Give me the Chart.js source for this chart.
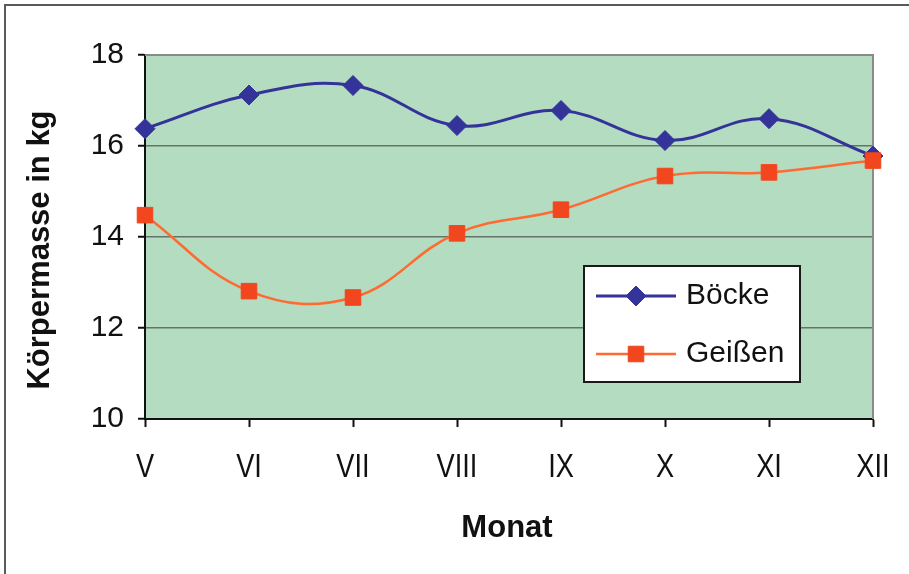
<!DOCTYPE html>
<html>
<head>
<meta charset="utf-8">
<script src="https://cdn.jsdelivr.net/npm/chart.js@4/dist/chart.umd.min.js"></script>
<style>
  html, body { margin: 0; padding: 0; background: #ffffff; }
  #wrap { width: 909px; height: 574px; position: relative; }
</style>
</head>
<body>
<div id="wrap"><canvas id="c" width="909" height="574"></canvas></div>
<script>
// Monthly mean body mass (kg) of bucks and does
const months = ['V', 'VI', 'VII', 'VIII', 'IX', 'X', 'XI', 'XII'];
const boecke = [16.38, 17.12, 17.33, 16.45, 16.78, 16.12, 16.60, 15.78];
const geissen = [14.48, 12.81, 12.67, 14.08, 14.60, 15.34, 15.42, 15.68];
const yTicks = [10, 12, 14, 16, 18];
const seriesNames = ['Böcke', 'Geißen'];
const xTitle = 'Monat';
const yTitle = 'Körpermasse in kg';

const BLUE = '#333399';
const ORANGE_LINE = '#FF6A30';
const ORANGE_MARK = '#F2461E';
const PLOT_BG = '#B4DCC0';
const FONT = "'Liberation Sans', Arial, sans-serif";

// Green plot background plus grey top/right frame of the plot area
const plotFrame = {
  id: 'plotFrame',
  beforeDraw(chart) {
    const { ctx, chartArea: a } = chart;
    ctx.save();
    ctx.fillStyle = PLOT_BG;
    ctx.fillRect(a.left, a.top, a.right - a.left, a.bottom - a.top);
    ctx.restore();
  },
  beforeDatasetsDraw(chart) {
    const { ctx, chartArea: a } = chart;
    ctx.save();
    ctx.strokeStyle = '#8a8a8a';
    ctx.lineWidth = 2;
    ctx.beginPath();
    ctx.moveTo(a.left, a.top);
    ctx.lineTo(a.right, a.top);
    ctx.lineTo(a.right, a.bottom);
    ctx.stroke();
    ctx.restore();
  },
  afterDraw(chart) {
    const { ctx } = chart;
    ctx.save();
    // outer frame of the figure (top and left edge)
    ctx.strokeStyle = '#5a5a5a';
    ctx.lineWidth = 2;
    ctx.beginPath();
    ctx.moveTo(5, chart.height);
    ctx.lineTo(5, 5);
    ctx.lineTo(chart.width, 5);
    ctx.stroke();

    // condensed month labels under the x-axis tick marks
    const xs = chart.scales.x;
    ctx.fillStyle = '#111111';
    ctx.font = '34px ' + FONT;
    ctx.textAlign = 'center';
    ctx.textBaseline = 'alphabetic';
    xs.ticks.forEach((t, i) => {
      const px = xs.getPixelForTick(i);
      ctx.save();
      ctx.translate(px, 477);
      ctx.scale(0.8, 1);
      ctx.fillText(xs.getLabelForValue(t.value), 0, 0);
      ctx.restore();
    });

    // axis titles
    ctx.font = 'bold 31px ' + FONT;
    ctx.textAlign = 'center';
    ctx.textBaseline = 'middle';
    ctx.fillText(xTitle, 507, 528);
    ctx.save();
    ctx.translate(40, 250);
    ctx.rotate(-Math.PI / 2);
    ctx.fillText(yTitle, 0, 0);
    ctx.restore();
    ctx.restore();
  }
};

// Boxed legend placed inside the plot area
const boxLegend = {
  id: 'boxLegend',
  afterDraw(chart, args, opts) {
    const { ctx } = chart;
    const x = opts.x, y = opts.y, w = opts.w, h = opts.h;
    ctx.save();
    ctx.fillStyle = '#ffffff';
    ctx.fillRect(x, y, w, h);
    ctx.strokeStyle = '#1a1a1a';
    ctx.lineWidth = 2;
    ctx.strokeRect(x, y, w, h);
    const entries = [...chart.data.datasets].sort((a, b) => a.legendIndex - b.legendIndex);
    entries.forEach((ds, i) => {
      const cy = y + opts.rowY[i];
      const lx0 = x + 12, lx1 = x + 92, mx = (lx0 + lx1) / 2;
      ctx.strokeStyle = ds.borderColor;
      ctx.lineWidth = ds.borderWidth;
      ctx.beginPath();
      ctx.moveTo(lx0, cy);
      ctx.lineTo(lx1, cy);
      ctx.stroke();
      ctx.fillStyle = ds.pointBackgroundColor;
      ctx.strokeStyle = ds.pointBorderColor;
      ctx.lineWidth = 1;
      Chart.helpers.drawPoint(ctx, { pointStyle: ds.pointStyle, rotation: 0, borderWidth: 1, radius: ds.pointRadius }, mx, cy);
      ctx.fillStyle = '#111111';
      ctx.font = '30px ' + FONT;
      ctx.textBaseline = 'middle';
      ctx.textAlign = 'left';
      ctx.fillText(ds.label, x + 102, cy);
    });
    ctx.restore();
  }
};

new Chart(document.getElementById('c'), {
  type: 'line',
  data: {
    labels: months,
    datasets: [
      {
        label: seriesNames[0],
        legendIndex: 0,
        order: 1,
        data: boecke,
        borderColor: BLUE,
        borderWidth: 3,
        pointStyle: 'rectRot',
        pointRadius: 10,
        pointBackgroundColor: BLUE,
        pointBorderColor: BLUE,
        pointBorderWidth: 1,
        tension: 0.4,
        clip: false
      },
      {
        label: seriesNames[1],
        legendIndex: 1,
        order: 0,
        data: geissen,
        borderColor: ORANGE_LINE,
        borderWidth: 2.5,
        pointStyle: 'rect',
        pointRadius: 11,
        pointBackgroundColor: ORANGE_MARK,
        pointBorderColor: ORANGE_MARK,
        pointBorderWidth: 1,
        tension: 0.4,
        clip: false
      }
    ]
  },
  options: {
    responsive: false,
    devicePixelRatio: 1,
    animation: false,
    layout: { padding: { left: 0, top: 55, right: 36, bottom: 0 } },
    plugins: {
      legend: { display: false },
      tooltip: { enabled: false },
      boxLegend: { x: 584, y: 266, w: 216, h: 116, rowY: [30, 88] }
    },
    scales: {
      x: {
        type: 'category',
        offset: false,
        afterFit(scale) { scale.height = 155; },
        grid: { drawOnChartArea: false, drawTicks: true, tickLength: 8, tickColor: '#111', tickWidth: 2 },
        border: { color: '#111', width: 2 },
        ticks: {
          display: false,
          autoSkip: false,
          maxRotation: 0
        },
        title: { display: false }
      },
      y: {
        min: 10,
        max: 18,
        afterFit(scale) { scale.width = 145; },
        afterBuildTicks(scale) { scale.ticks = yTicks.map(v => ({ value: v })); },
        grid: {
          color(ctx) {
            const v = ctx.tick && ctx.tick.value;
            return (v === 10 || v === 18) ? 'rgba(0,0,0,0)' : 'rgba(80,90,85,0.8)';
          },
          lineWidth: 1.5,
          tickLength: 7,
          tickColor: '#111',
          tickWidth: 2
        },
        border: { color: '#111', width: 2 },
        ticks: {
          color: '#111',
          padding: 14,
          font: { family: FONT, size: 30 }
        },
        title: { display: false }
      }
    }
  },
  plugins: [plotFrame, boxLegend]
});
</script>
</body>
</html>
